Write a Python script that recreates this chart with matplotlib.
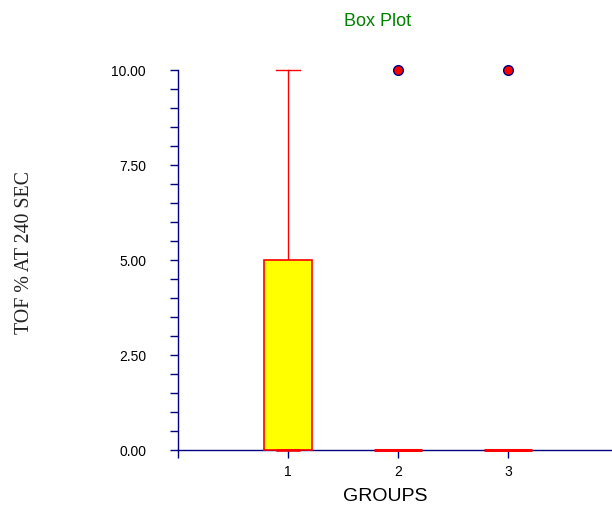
import matplotlib
matplotlib.use("Agg")
import matplotlib.pyplot as plt
from matplotlib.ticker import MultipleLocator, FormatStrFormatter

groups = [1, 2, 3]
group_labels = ["1", "2", "3"]
q1 = [0.0, 0.0, 0.0]
medians = [0.0, 0.0, 0.0]
q3 = [5.0, 0.0, 0.0]
whislo = [0.0, 0.0, 0.0]
whishi = [10.0, 0.0, 0.0]
fliers = [[], [10.0], [10.0]]

stats = []
for i in range(len(groups)):
    stats.append(dict(label=group_labels[i], q1=q1[i], med=medians[i], q3=q3[i],
                      whislo=whislo[i], whishi=whishi[i], fliers=fliers[i]))

navy = "#000080"
fig = plt.figure(figsize=(6.12, 5.10), dpi=100)
ax = fig.add_axes([178/612, 1-451/510, 440/612, 380/510])

bp = ax.bxp(stats, positions=groups, widths=0.43, capwidths=0.21, patch_artist=True,
            showfliers=True,
            boxprops=dict(facecolor="yellow", edgecolor="red", linewidth=1.2),
            whiskerprops=dict(color="red", linewidth=1),
            capprops=dict(color="red", linewidth=1),
            medianprops=dict(visible=False),
            flierprops=dict(marker="o", markerfacecolor="red", markeredgecolor=navy,
                            markersize=7, markeredgewidth=1, linestyle="none"))
for i, b in enumerate(bp["boxes"]):
    b.set_clip_on(False)
    b.set_zorder(5)
    if i > 0:
        b.set_linewidth(2.2)
for f in bp["fliers"]:
    f.set_clip_on(False)
    f.set_zorder(6)
for c in bp["caps"] + bp["whiskers"]:
    c.set_clip_on(False)
# median lines
ax.hlines(medians, [g - 0.105 for g in groups], [g + 0.105 for g in groups],
          colors="red", linewidth=1.8, zorder=6, clip_on=False)

ax.set_xlim(0, 4)
ax.set_ylim(0, 10)
ax.set_xticks([0] + groups)
ax.set_xticklabels([""] + group_labels)
ax.yaxis.set_major_locator(MultipleLocator(2.5))
ax.yaxis.set_minor_locator(MultipleLocator(0.5))
ax.yaxis.set_major_formatter(FormatStrFormatter("%.2f"))

for s in ["top", "right"]:
    ax.spines[s].set_visible(False)
for s in ["left", "bottom"]:
    ax.spines[s].set_color(navy)
    ax.spines[s].set_linewidth(1)
    ax.spines[s].set_zorder(2)

ax.tick_params(axis="y", which="major", length=6, width=1, color=navy, pad=17,
               labelsize=10)
ax.tick_params(axis="y", which="minor", length=6, width=1, color=navy)
ax.tick_params(axis="x", length=6, width=1, color=navy, pad=4, labelsize=10)
for lab in ax.get_xticklabels() + ax.get_yticklabels():
    lab.set_fontfamily("Liberation Sans")

fig.text(378/612, 1-21/510, "Box Plot", color="green", fontsize=13,
         family="Liberation Sans", ha="center", va="center")
fig.text(385/612, 1-497/510, "GROUPS", color="black", fontsize=14,
         family="Liberation Sans", ha="center", va="center")
fig.text(25/612, 1-252/510, "TOF % AT 240 SEC", color="#222222", fontsize=14.3,
         family="Liberation Serif", ha="center", va="center", rotation=90)

fig.savefig("out.png", dpi=100)
